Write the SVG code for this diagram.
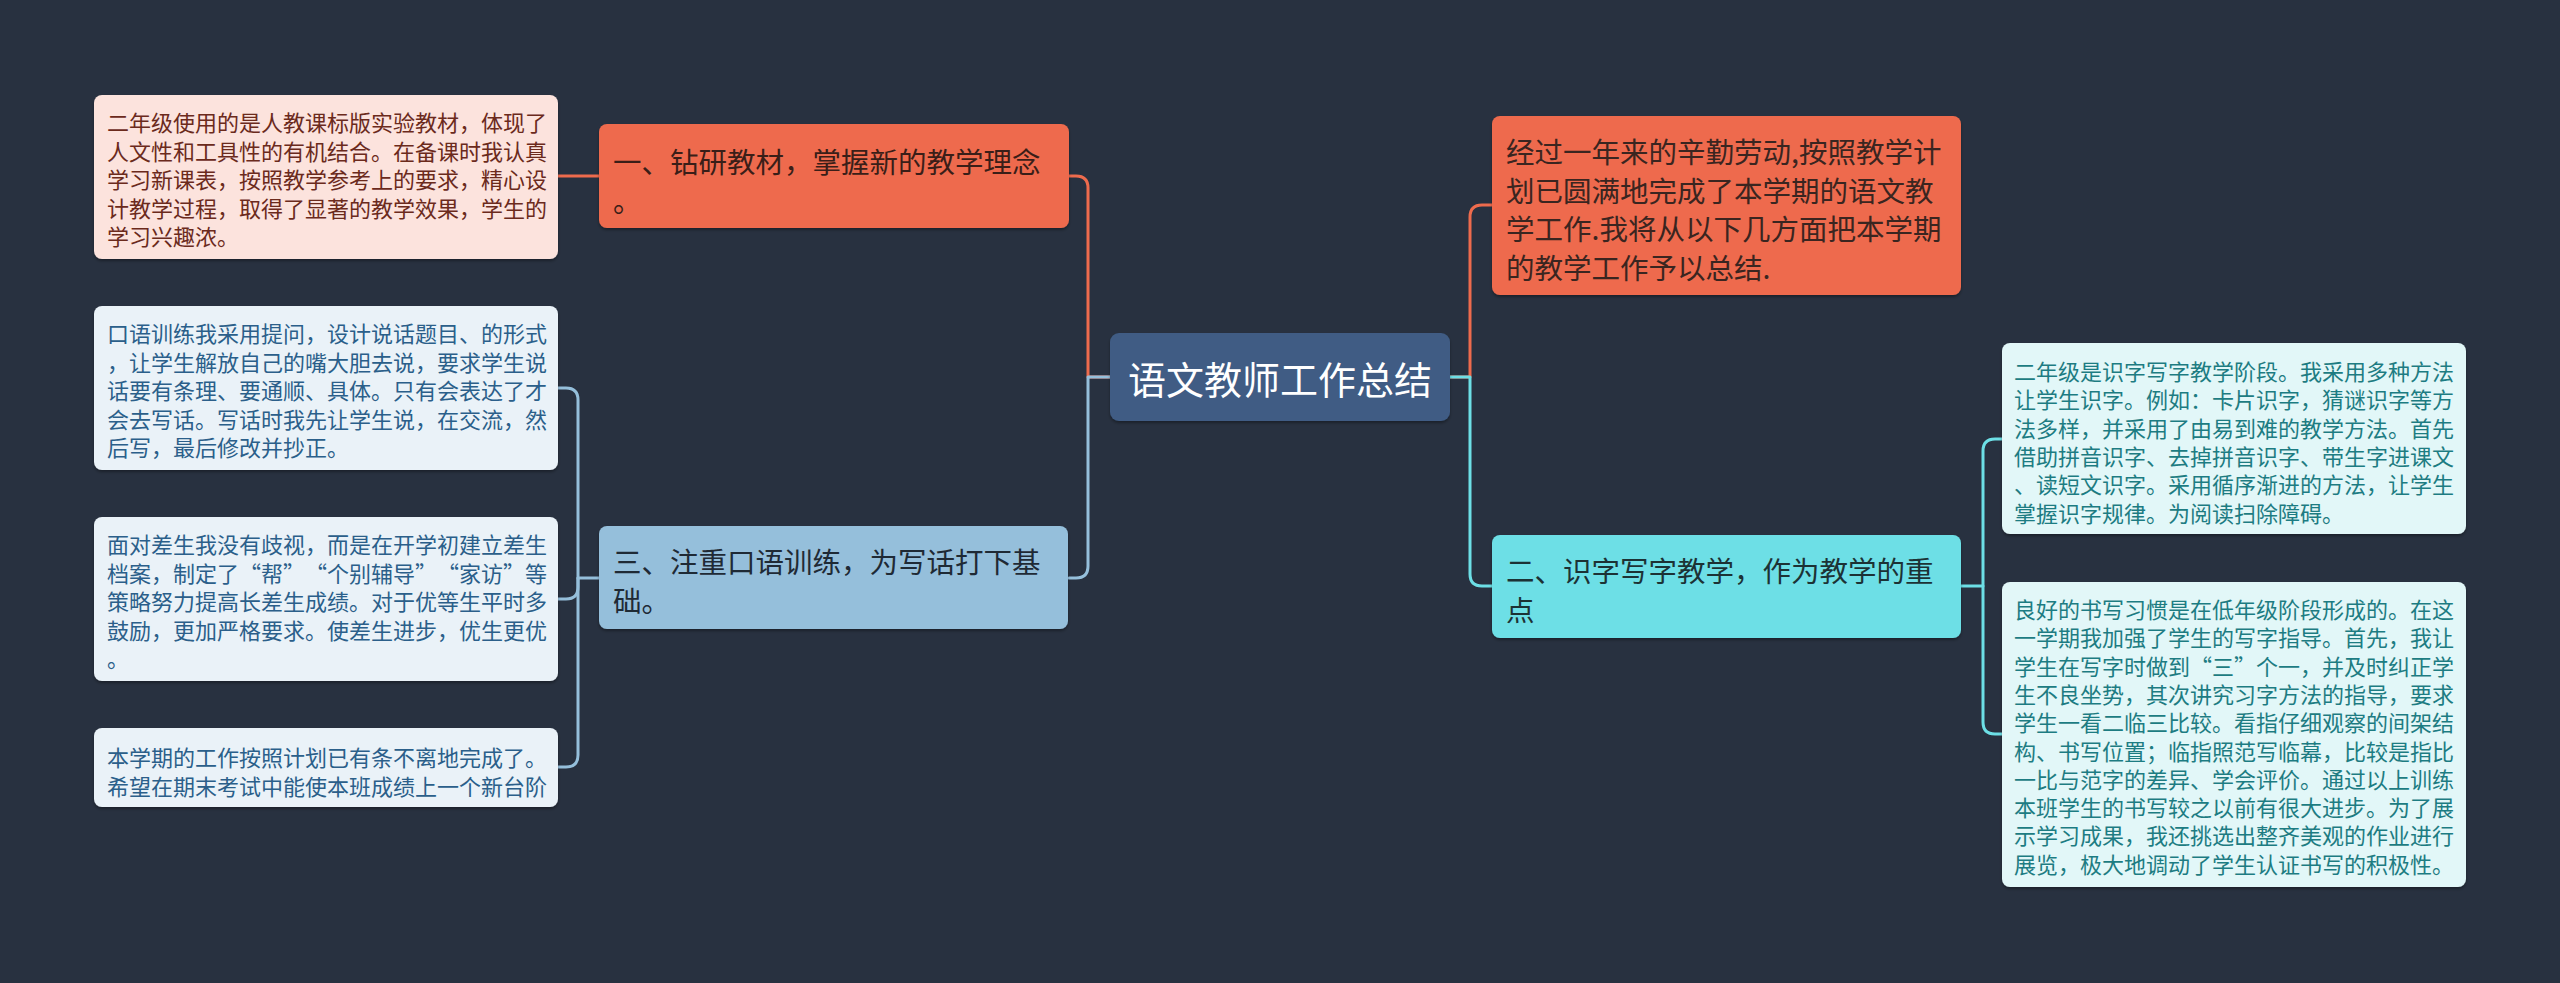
<svg xmlns="http://www.w3.org/2000/svg" width="2560" height="983" viewBox="0 0 2560 983">
<defs>
<filter id="sh" x="-5%" y="-5%" width="110%" height="120%"><feDropShadow dx="0" dy="2" stdDeviation="1.5" flood-color="#000" flood-opacity="0.35"/></filter>
<style>
text{font-family:"Noto Sans CJK SC","Noto Sans",sans-serif;dominant-baseline:central;text-spacing-trim:space-all}
.leaf{font-size:22px;font-feature-settings:"fwid"}
.main{font-size:28.5px}
.c{fill:none;stroke-width:3;stroke-linecap:round;stroke-linejoin:round}
</style>
</defs>
<rect width="2560" height="983" fill="#283140"/>
<g id="connectors">
<path class="c" stroke="#ee6b4d" d="M1110,377 H1088 V188 Q1088,176 1076,176 H1069"/>
<path class="c" stroke="#95bfdb" d="M1110,377 H1088 V566 Q1088,578 1076,578 H1069"/>
<path class="c" stroke="#ee6b4d" d="M1450,377 H1470 V217 Q1470,205 1482,205 H1492"/>
<path class="c" stroke="#6ddfe6" d="M1450,377 H1470 V574 Q1470,586 1482,586 H1492"/>
<path class="c" stroke="#ee6b4d" d="M599,176 H557"/>
<path class="c" stroke="#95bfdb" d="M599,578 H578 V400 Q578,388 566,388 H558"/>
<path class="c" stroke="#95bfdb" d="M578,578 V587 Q578,599 566,599 H558"/>
<path class="c" stroke="#95bfdb" d="M578,578 V755 Q578,767 566,767 H558"/>
<path class="c" stroke="#6ddfe6" d="M1961,586 H1983 V451 Q1983,439 1995,439 H2002"/>
<path class="c" stroke="#6ddfe6" d="M1983,586 V722 Q1983,734 1995,734 H2002"/>
</g>
<g id="center">
<rect x="1110" y="333" width="340" height="88" rx="9" fill="#3f5c84" filter="url(#sh)"/>
<text x="1280" y="377" font-size="38" fill="#ffffff" text-anchor="middle">语文教师工作总结</text>
</g>
<g id="n1">
<rect x="599" y="124" width="470" height="104" rx="8" fill="#ee6b4d" filter="url(#sh)"/>
<text class="main" fill="#3a1e18" x="613"><tspan y="160">一、钻研教材，掌握新的教学理念</tspan><tspan x="613" y="198.5">。</tspan></text>
</g>
<g id="n1a">
<rect x="94" y="95" width="464" height="164" rx="8" fill="#fce3dd" filter="url(#sh)"/>
<text class="leaf" fill="#6b2a1c" x="107"><tspan y="121">二年级使用的是人教课标版实验教材，体现了</tspan><tspan x="107" y="149.5">人文性和工具性的有机结合。在备课时我认真</tspan><tspan x="107" y="178">学习新课表，按照教学参考上的要求，精心设</tspan><tspan x="107" y="206.5">计教学过程，取得了显著的教学效果，学生的</tspan><tspan x="107" y="235">学习兴趣浓。</tspan></text>
</g>
<g id="n3">
<rect x="599" y="526" width="469" height="103" rx="8" fill="#95bfdb" filter="url(#sh)"/>
<text class="main" fill="#1f2a35" x="613"><tspan y="560">三、注重口语训练，为写话打下基</tspan><tspan x="613" y="598.5">础。</tspan></text>
</g>
<g id="n3a">
<rect x="94" y="306" width="464" height="164" rx="8" fill="#eaf2f8" filter="url(#sh)"/>
<text class="leaf" fill="#2b5f8a" x="107"><tspan y="332">口语训练我采用提问，设计说话题目、的形式</tspan><tspan x="107" y="360.5">，让学生解放自己的嘴大胆去说，要求学生说</tspan><tspan x="107" y="389">话要有条理、要通顺、具体。只有会表达了才</tspan><tspan x="107" y="417.5">会去写话。写话时我先让学生说，在交流，然</tspan><tspan x="107" y="446">后写，最后修改并抄正。</tspan></text>
</g>
<g id="n3b">
<rect x="94" y="517" width="464" height="164" rx="8" fill="#eaf2f8" filter="url(#sh)"/>
<text class="leaf" fill="#2b5f8a" x="107"><tspan y="543">面对差生我没有歧视，而是在开学初建立差生</tspan><tspan x="107" y="571.5">档案，制定了“帮”“个别辅导”“家访”等</tspan><tspan x="107" y="600">策略努力提高长差生成绩。对于优等生平时多</tspan><tspan x="107" y="628.5">鼓励，更加严格要求。使差生进步，优生更优</tspan><tspan x="107" y="657">。</tspan></text>
</g>
<g id="n3c">
<rect x="94" y="728" width="464" height="79" rx="8" fill="#eaf2f8" filter="url(#sh)"/>
<text class="leaf" fill="#2b5f8a" x="107"><tspan y="756">本学期的工作按照计划已有条不离地完成了。</tspan><tspan x="107" y="784.5">希望在期末考试中能使本班成绩上一个新台阶</tspan></text>
</g>
<g id="n0">
<rect x="1492" y="116" width="469" height="179" rx="8" fill="#ee6b4d" filter="url(#sh)"/>
<text class="main" fill="#3a2520" x="1506"><tspan y="150">经过一年来的辛勤劳动,按照教学计</tspan><tspan x="1506" y="188.5">划已圆满地完成了本学期的语文教</tspan><tspan x="1506" y="227">学工作.我将从以下几方面把本学期</tspan><tspan x="1506" y="265.5">的教学工作予以总结.</tspan></text>
</g>
<g id="n2">
<rect x="1492" y="535" width="469" height="103" rx="8" fill="#6ddfe6" filter="url(#sh)"/>
<text class="main" fill="#1c3235" x="1506"><tspan y="569">二、识字写字教学，作为教学的重</tspan><tspan x="1506" y="607.5">点</tspan></text>
</g>
<g id="n2a">
<rect x="2002" y="343" width="464" height="191" rx="8" fill="#e2f7f8" filter="url(#sh)"/>
<text class="leaf" fill="#1d7c82" x="2014"><tspan y="370">二年级是识字写字教学阶段。我采用多种方法</tspan><tspan x="2014" y="398.3">让学生识字。例如：卡片识字，猜谜识字等方</tspan><tspan x="2014" y="426.6">法多样，并采用了由易到难的教学方法。首先</tspan><tspan x="2014" y="454.9">借助拼音识字、去掉拼音识字、带生字进课文</tspan><tspan x="2014" y="483.2">、读短文识字。采用循序渐进的方法，让学生</tspan><tspan x="2014" y="511.5">掌握识字规律。为阅读扫除障碍。</tspan></text>
</g>
<g id="n2b">
<rect x="2002" y="582" width="464" height="305" rx="8" fill="#e2f7f8" filter="url(#sh)"/>
<text class="leaf" fill="#1d7c82" x="2014"><tspan y="608">良好的书写习惯是在低年级阶段形成的。在这</tspan><tspan x="2014" y="636.3">一学期我加强了学生的写字指导。首先，我让</tspan><tspan x="2014" y="664.6">学生在写字时做到“三”个一，并及时纠正学</tspan><tspan x="2014" y="692.9">生不良坐势，其次讲究习字方法的指导，要求</tspan><tspan x="2014" y="721.2">学生一看二临三比较。看指仔细观察的间架结</tspan><tspan x="2014" y="749.5">构、书写位置；临指照范写临幕，比较是指比</tspan><tspan x="2014" y="777.8">一比与范字的差异、学会评价。通过以上训练</tspan><tspan x="2014" y="806.1">本班学生的书写较之以前有很大进步。为了展</tspan><tspan x="2014" y="834.4">示学习成果，我还挑选出整齐美观的作业进行</tspan><tspan x="2014" y="862.7">展览，极大地调动了学生认证书写的积极性。</tspan></text>
</g>
</svg>
